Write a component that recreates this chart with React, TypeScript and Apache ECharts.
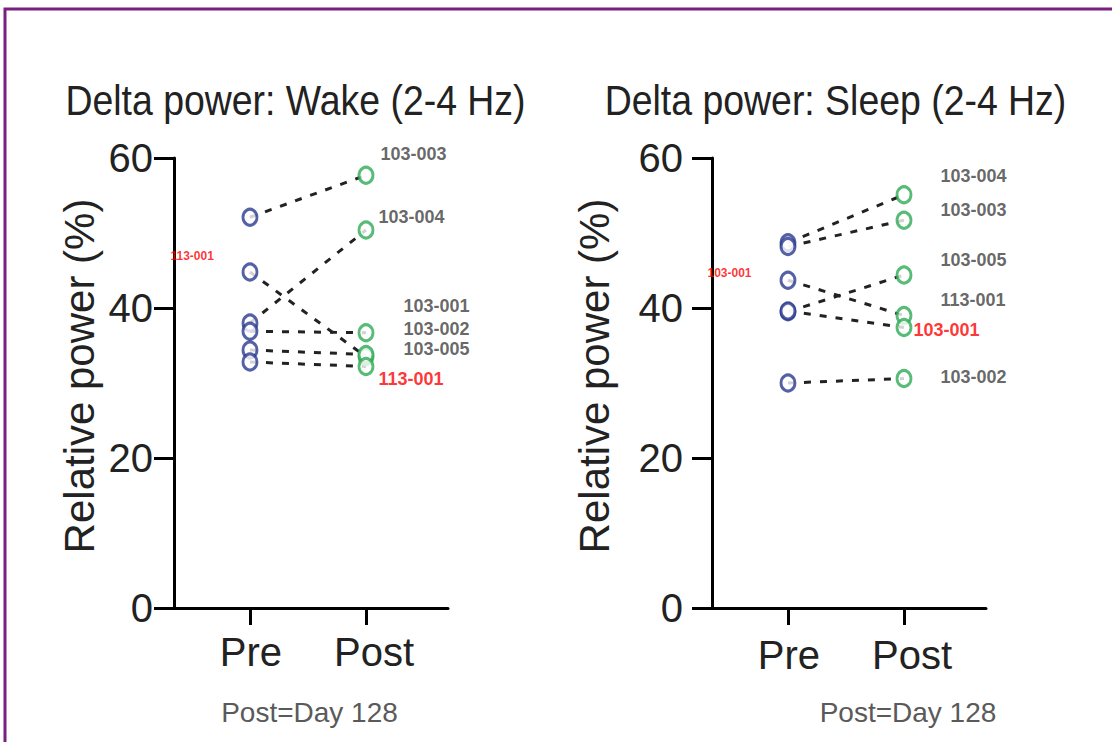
import React, { useEffect, useRef } from "react";
import * as echarts from "echarts";

// ---- data ----
const xCategories = ["Pre", "Post"];
const yTicks = [0, 20, 40, 60];

const wakeSubjects = ["103-003", "103-004", "103-001", "103-002", "103-005", "113-001"];
const wakePre = [52.1, 38.0, 44.8, 36.9, 34.4, 32.8];
const wakePost = [57.7, 50.4, 33.5, 36.7, 33.8, 32.2];

const sleepSubjects = ["103-004", "103-003", "113-001", "103-005", "103-001", "103-002"];
const sleepPre = [48.7, 48.2, 43.7, 39.5, 39.6, 30.0];
const sleepPost = [55.1, 51.7, 39.0, 44.4, 37.4, 30.6];

// annotation labels (text, value level, category index, kind)
const wakeLabelText = ["103-003", "103-004", "103-001", "103-002", "103-005", "113-001", "113-001"];
const wakeLabelY = [60.6, 52.2, 40.3, 37.2, 34.6, 30.6, 47.0];
const wakeLabelAt = [1, 1, 1, 1, 1, 1, 0];
const wakeLabelKind = ["gray", "gray", "gray", "gray", "gray", "red", "redSmall"];

const sleepLabelText = ["103-004", "103-003", "103-005", "113-001", "103-001", "103-002", "103-001"];
const sleepLabelY = [57.6, 53.1, 46.4, 41.1, 37.1, 30.8, 44.7];
const sleepLabelAt = [1, 1, 1, 1, 1, 1, 0];
const sleepLabelKind = ["gray", "gray", "gray", "gray", "red", "gray", "redSmall"];

const panelTitles = ["Delta power: Wake (2-4 Hz)", "Delta power: Sleep (2-4 Hz)"];
const footnote = "Post=Day 128";
const yAxisTitle = "Relative power (%)";

// ---- layout (not data) ----
const wakeLabelDx = [14, 12, 37, 37, 37, 12, -80];
const sleepLabelDx = [36, 36, 36, 36, 9, 36, -81];

const FONT = "'Liberation Sans', Arial, Helvetica, sans-serif";
const BLUE = "#2b3a8f";
const GREEN = "#2eaa55";
const LINE = "#222222";

const kindStyle: Record<string, any> = {
  gray: { color: "#3f3f3f", fontSize: 18, fontWeight: "bold" },
  red: { color: "#ff0000", fontSize: 18, fontWeight: "bold" },
  redSmall: { color: "#ff0000", fontSize: 12, fontWeight: "bold" },
};

function panelSeries(
  idx: number,
  subjects: string[],
  pre: number[],
  post: number[],
  lText: string[],
  lY: number[],
  lAt: number[],
  lKind: string[],
  lDx: number[]
) {
  const s: any[] = [];
  subjects.forEach((name, i) => {
    s.push({
      type: "line",
      name: name,
      xAxisIndex: idx,
      yAxisIndex: idx,
      data: [
        [0, pre[i]],
        [1, post[i]],
      ],
      symbol: "none",
      silent: true,
      z: 2,
      lineStyle: { color: LINE, width: 3, type: [7, 9] },
    });
  });
  s.push({
    type: "scatter",
    xAxisIndex: idx,
    yAxisIndex: idx,
    data: pre.map((v) => [0, v]),
    symbol: "circle",
    symbolSize: [14, 16],
    silent: true,
    z: 3,
    itemStyle: { color: "#ffffff", borderColor: BLUE, borderWidth: 3 },
  });
  s.push({
    type: "scatter",
    xAxisIndex: idx,
    yAxisIndex: idx,
    data: post.map((v) => [1, v]),
    symbol: "circle",
    symbolSize: [14, 16],
    silent: true,
    z: 3,
    itemStyle: { color: "#ffffff", borderColor: GREEN, borderWidth: 3 },
  });
  s.push({
    type: "scatter",
    xAxisIndex: idx,
    yAxisIndex: idx,
    symbol: "circle",
    symbolSize: 1,
    silent: true,
    clip: false,
    z: 5,
    itemStyle: { color: "rgba(0,0,0,0)" },
    label: {
      show: true,
      position: "right",
      distance: 0,
      fontFamily: FONT,
      textBorderWidth: 0,
      formatter: (p: any) => p.name,
    },
    data: lText.map((t, i) => ({
      name: t,
      value: [lAt[i], lY[i]],
      label: { offset: [lDx[i], 0], ...kindStyle[lKind[i]] },
    })),
  });
  return s;
}

const gridLefts = [174, 712];
const labelMargins = [21, 29];
const nameGaps = [74, 97];

export default function App() {
  const ref = useRef<HTMLDivElement>(null);
  useEffect(() => {
    if (!ref.current) return;
    const chart = echarts.init(ref.current, undefined, { renderer: "svg" });
    const grids = gridLefts.map((l) => ({ left: l, top: 158, width: 274, height: 450 }));
    const xAxes = gridLefts.map((_, i) => ({
      type: "value",
      gridIndex: i,
      min: -0.655,
      max: 1.707,
      splitLine: { show: false },
      axisLine: { show: true, onZero: false, lineStyle: { color: "#000", width: 3 } },
      axisTick: { show: true, customValues: [0, 1], length: 17, lineStyle: { color: "#000", width: 3 } },
      axisLabel: {
        show: true,
        customValues: [0, 1],
        formatter: (v: number) => (Math.round(v) === 1 ? "{p|" + xCategories[1] + "}" : "{q|" + xCategories[0] + "}"),
        fontSize: 40,
        fontFamily: FONT,
        color: "#222",
        margin: 24 + i * 3,
        rich: {
          p: { fontSize: 40, fontFamily: FONT, color: "#222", padding: [0, 0, 0, 16] },
          q: { fontSize: 40, fontFamily: FONT, color: "#222", padding: [0, 0, 0, 2] },
        },
      },
    }));
    const yAxes = gridLefts.map((_, i) => ({
      type: "value",
      gridIndex: i,
      min: yTicks[0],
      max: yTicks[yTicks.length - 1],
      interval: 20,
      splitLine: { show: false },
      axisLine: { show: true, onZero: false, lineStyle: { color: "#000", width: 3 } },
      axisTick: { show: true, length: 20, lineStyle: { color: "#000", width: 3 } },
      axisLabel: { fontSize: 40, fontFamily: FONT, color: "#222", margin: labelMargins[i] },
      name: yAxisTitle,
      nameLocation: "middle",
      nameRotate: 90,
      nameGap: nameGaps[i],
      nameTextStyle: { fontSize: 42, fontFamily: FONT, color: "#222", padding: [0, 0, 0, 14] },
    }));
    const titleCenters = [295.5, 835.5];
    const footCenters = [309.5, 908];
    const graphic: any[] = [
      {
        type: "rect",
        shape: { x: 5, y: 9, width: 1130, height: 760 },
        style: { fill: "none", stroke: "#7a1f80", lineWidth: 3 },
        silent: true,
      },
    ];
    panelTitles.forEach((t, i) => {
      graphic.push({
        type: "text",
        x: titleCenters[i],
        y: 100.5,
        scaleX: 0.87,
        style: {
          text: t,
          fontSize: 43,
          fontFamily: FONT,
          fill: "#222",
          textAlign: "center",
          textVerticalAlign: "middle",
          verticalAlign: "middle",
        },
        silent: true,
      });
      graphic.push({
        type: "text",
        x: footCenters[i],
        y: 712,
        style: {
          text: footnote,
          fontSize: 28,
          fontFamily: FONT,
          fill: "#5a5a5a",
          textAlign: "center",
          textVerticalAlign: "middle",
          verticalAlign: "middle",
        },
        silent: true,
      });
    });
    chart.setOption({
      animation: false,
      backgroundColor: "#ffffff",
      grid: grids,
      xAxis: xAxes,
      yAxis: yAxes,
      graphic: graphic,
      series: [
        ...panelSeries(0, wakeSubjects, wakePre, wakePost, wakeLabelText, wakeLabelY, wakeLabelAt, wakeLabelKind, wakeLabelDx),
        ...panelSeries(1, sleepSubjects, sleepPre, sleepPost, sleepLabelText, sleepLabelY, sleepLabelAt, sleepLabelKind, sleepLabelDx),
      ],
    });
    return () => chart.dispose();
  }, []);
  return (
    <div
      ref={ref}
      style={{ position: "absolute", left: 0, top: 0, width: 1112, height: 742, background: "#fff" }}
    />
  );
}
